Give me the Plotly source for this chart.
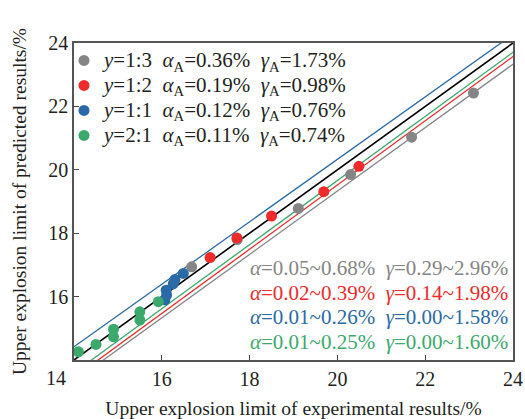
import plotly.graph_objects as go

# ---- data ----
groups = ["y=1:3", "y=1:2", "y=1:1", "y=2:1"]
colors = ["#858585", "#EE2A2A", "#2A6AA6", "#3CA96C"]
ratio_labels = ["1:3", "1:2", "1:1", "2:1"]
alpha_A = ["0.36", "0.19", "0.12", "0.11"]
gamma_A = ["1.73", "0.98", "0.76", "0.74"]
alpha_range = ["0.05~0.68", "0.02~0.39", "0.01~0.26", "0.01~0.25"]
gamma_range = ["0.29~2.96", "0.14~1.98", "0.00~1.58", "0.00~1.60"]

exp_13 = [16.68, 17.72, 19.11, 20.30, 21.69, 23.10]
pred_13 = [16.94, 17.80, 18.78, 19.85, 21.03, 22.42]
exp_12 = [17.10, 17.71, 18.50, 19.69, 20.49]
pred_12 = [17.23, 17.85, 18.54, 19.31, 20.11]
exp_11 = [16.49, 16.30, 16.26, 16.10, 16.11, 16.07]
pred_11 = [16.73, 16.54, 16.40, 16.20, 16.05, 15.90]
exp_21 = [15.92, 15.50, 15.50, 14.90, 14.90, 14.50, 14.10]
pred_21 = [15.84, 15.52, 15.26, 14.97, 14.73, 14.49, 14.26]

fit_slope = [1.000, 1.013, 0.985, 1.011]
fit_intercept = [-0.67, -0.739, 0.63, -0.558]

ticks = [16, 18, 20, 22, 24]
axis_range = [14, 24]

exps = [exp_13, exp_12, exp_11, exp_21]
preds = [pred_13, pred_12, pred_11, pred_21]

FONT = "Liberation Serif, Times New Roman, serif"
TXT = "#231f20"

fig = go.Figure()

line_x = [axis_range[0] - 1, axis_range[1] + 1]
# fitted lines
for c, k, b in zip(colors, fit_slope, fit_intercept):
    fig.add_trace(go.Scatter(x=line_x, y=[k * v + b for v in line_x], mode="lines",
                             line=dict(color=c, width=1.3), showlegend=False, hoverinfo="skip"))
# y = x
fig.add_trace(go.Scatter(x=line_x, y=line_x, mode="lines",
                         line=dict(color="black", width=1.6), showlegend=False, hoverinfo="skip"))

NB = "\u00a0"
for i in range(4):
    name = ('<span style="font-size:21px">'
            f"<i>y</i>={ratio_labels[i]}{NB}{NB}<i>α</i><sub>A</sub>={alpha_A[i]}%"
            f"{NB}{NB}<i>γ</i><sub>A</sub>={gamma_A[i]}%</span>")
    fig.add_trace(go.Scatter(x=exps[i], y=preds[i], mode="markers", name=name,
                             marker=dict(color=colors[i], size=11, line=dict(width=0)),
                             cliponaxis=False))

# range annotations
for i in range(4):
    fig.add_annotation(xref="paper", yref="paper", x=1, y=0,
                       xanchor="right", yanchor="middle",
                       xshift=-3, yshift=92 - 24.5 * i,
                       text=f"<i>α</i>={alpha_range[i]}%{NB}{NB}<i>γ</i>={gamma_range[i]}%",
                       showarrow=False, font=dict(family=FONT, size=21, color=colors[i]))

# shared corner label
fig.add_annotation(xref="paper", yref="paper", x=0, y=0, xanchor="center", yanchor="middle",
                   xshift=-18, yshift=-18, text="14", showarrow=False,
                   font=dict(family=FONT, size=20, color=TXT))

axis_common = dict(range=axis_range, tickvals=ticks, ticks="inside", ticklen=5,
                   tickwidth=1.2, tickcolor="#444", showline=True, linecolor="#555",
                   linewidth=1.6, mirror=True, showgrid=False, zeroline=False,
                   automargin=False,
                   tickfont=dict(family=FONT, size=20, color=TXT))

fig.update_xaxes(**axis_common, ticklabelstandoff=0,
                 title=dict(text="Upper explosion limit of experimental results/%",
                            font=dict(family=FONT, size=19.5, color=TXT), standoff=14))
fig.update_yaxes(**axis_common,
                 title=dict(text="Upper explosion limit of predicted results/%",
                            font=dict(family=FONT, size=19.5, color=TXT), standoff=16))

fig.update_layout(
    width=525, height=419,
    margin=dict(l=74, r=12, t=43, b=59, autoexpand=False),
    plot_bgcolor="white", paper_bgcolor="white",
    font=dict(family=FONT, color=TXT),
    legend=dict(x=-10 / 439, y=1, xanchor="left", yanchor="top",
                bgcolor="rgba(0,0,0,0)", font=dict(family=FONT, size=16.9, color=TXT),
                itemwidth=30, tracegroupgap=0),
)

fig.write_html("out.html", config={"displayModeBar": False},
               post_script="document.body.style.margin='0';")
